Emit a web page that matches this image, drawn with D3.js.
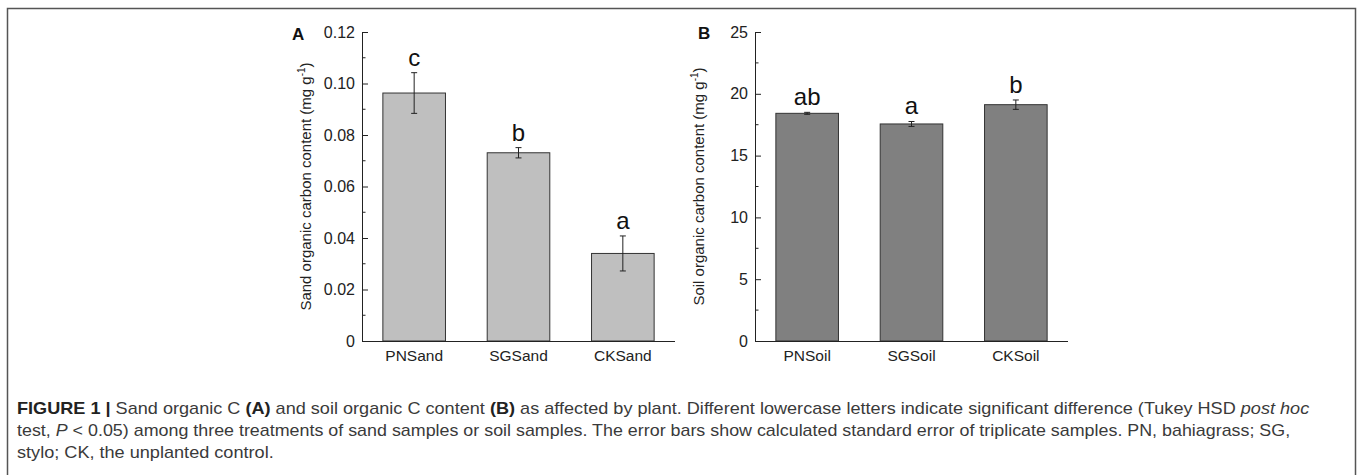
<!DOCTYPE html>
<html>
<head>
<meta charset="utf-8">
<script src="https://cdn.jsdelivr.net/npm/d3@7"></script>
<style>
  html, body { margin: 0; padding: 0; background: #fff; }
  svg { display: block; }
</style>
</head>
<body>
<svg id="chart" width="1357" height="475"></svg>
<script>
// ---------- data ----------
const sandCategories = ["PNSand", "SGSand", "CKSand"];
const sandValues = [0.0963, 0.0731, 0.0340];
const sandErrors = [0.0079, 0.0020, 0.0068];
const sandLetters = ["c", "b", "a"];
const sandTicks = [0, 0.02, 0.04, 0.06, 0.08, 0.10, 0.12];
const sandTickLabels = ["0", "0.02", "0.04", "0.06", "0.08", "0.10", "0.12"];

const soilCategories = ["PNSoil", "SGSoil", "CKSoil"];
const soilValues = [18.42, 17.56, 19.12];
const soilErrors = [0.08, 0.20, 0.38];
const soilLetters = ["ab", "a", "b"];
const soilTicks = [0, 5, 10, 15, 20, 25];
const soilTickLabels = ["0", "5", "10", "15", "20", "25"];

const captionLines = [
  [{t: "FIGURE 1 | ", b: true}, {t: "Sand organic C "}, {t: "(A)", b: true}, {t: " and soil organic C content "}, {t: "(B)", b: true},
   {t: " as affected by plant. Different lowercase letters indicate significant difference (Tukey HSD "}, {t: "post hoc", i: true}],
  [{t: "test, "}, {t: "P", i: true}, {t: " < 0.05) among three treatments of sand samples or soil samples. The error bars show calculated standard error of triplicate samples. PN, bahiagrass; SG,"}],
  [{t: "stylo; CK, the unplanted control."}]
];

// ---------- drawing ----------
const svg = d3.select("#chart");
const FONT = "'Liberation Sans', Arial, sans-serif";
const AX = "#222";

// frame
svg.append("path")
  .attr("d", "M7.5,480 V8.5 H1355.5 V480")
  .attr("fill", "none").attr("stroke", "#555").attr("stroke-width", 1.5);

function panel(opts) {
  const {x0, x1, y0, y1, cats, vals, errs, letters, ticks, tickLabels, max, minorStep, fill, title, label} = opts;
  const g = svg.append("g");
  const x = d3.scaleBand().domain(cats).range([x0, x1]).paddingInner(0.4).paddingOuter(0.2);
  const y = d3.scaleLinear().domain([0, max]).range([y1, y0]);

  // minor ticks
  const minors = d3.range(0, max + 1e-9, minorStep).filter(v => !ticks.some(t => Math.abs(t - v) < 1e-9));
  g.selectAll("line.minor").data(minors).enter().append("line")
    .attr("x1", x0).attr("x2", x0 + 3.5)
    .attr("y1", d => y(d)).attr("y2", d => y(d))
    .attr("stroke", AX).attr("stroke-width", 1);

  // y axis with inward ticks
  const yAxis = d3.axisLeft(y).tickValues(ticks).tickSize(-6).tickPadding(7)
    .tickFormat((d, i) => tickLabels[i]);
  const ya = g.append("g").attr("transform", `translate(${x0},0)`).call(yAxis);
  ya.select(".domain").attr("stroke", AX).attr("d", `M0.5,${y0} V${y1}`);
  ya.selectAll(".tick line").attr("stroke", AX);
  ya.selectAll(".tick text").attr("font-family", FONT).attr("font-size", 16).attr("fill", AX);

  // bars
  g.selectAll("rect.bar").data(cats).enter().append("rect")
    .attr("x", d => x(d)).attr("width", x.bandwidth())
    .attr("y", (d, i) => y(vals[i])).attr("height", (d, i) => y(0) - y(vals[i]))
    .attr("fill", fill).attr("stroke", "#333").attr("stroke-width", 1);

  // x axis
  const xAxis = d3.axisBottom(x).tickSize(0).tickPadding(9);
  const xa = g.append("g").attr("transform", `translate(0,${y1})`).call(xAxis);
  xa.select(".domain").attr("stroke", AX).attr("d", `M${x0},0.5 H${x1}`);
  xa.selectAll(".tick text").attr("font-family", FONT).attr("font-size", 15.5).attr("fill", AX);

  // error bars
  const cx = d => x(d) + x.bandwidth() / 2;
  cats.forEach((c, i) => {
    const top = y(vals[i] + errs[i]), bot = y(vals[i] - errs[i]);
    g.append("line").attr("x1", cx(c)).attr("x2", cx(c)).attr("y1", top).attr("y2", bot).attr("stroke", "#222");
    [top, bot].forEach(yy => g.append("line").attr("x1", cx(c) - 3).attr("x2", cx(c) + 3)
      .attr("y1", yy).attr("y2", yy).attr("stroke", "#222"));
    g.append("text").attr("x", cx(c)).attr("y", top - 7).attr("text-anchor", "middle")
      .attr("font-family", FONT).attr("font-size", 24).attr("fill", "#111").text(letters[i]);
  });

  // y title
  const tx = x0 - 51, ty = (y0 + y1) / 2;
  const t = g.append("text").attr("transform", `translate(${tx},${ty}) rotate(-90)`)
    .attr("text-anchor", "middle").attr("font-family", FONT).attr("font-size", 15).attr("fill", AX);
  t.append("tspan").text(title + " (mg g");
  t.append("tspan").attr("dy", -6).attr("font-size", 10).text("-1");
  t.append("tspan").attr("dy", 6).text(")");

  // panel label
  g.append("text").attr("x", label.x).attr("y", label.y).attr("font-family", FONT)
    .attr("font-weight", "bold").attr("font-size", 17).attr("fill", "#111").text(label.t);
}

panel({x0: 362, x1: 675, y0: 32, y1: 341, cats: sandCategories, vals: sandValues, errs: sandErrors,
  letters: sandLetters, ticks: sandTicks, tickLabels: sandTickLabels, max: 0.12, minorStep: 0.01,
  fill: "#bfbfbf", title: "Sand organic carbon content", label: {t: "A", x: 292, y: 40}});

panel({x0: 755, x1: 1068, y0: 32, y1: 341, cats: soilCategories, vals: soilValues, errs: soilErrors,
  letters: soilLetters, ticks: soilTicks, tickLabels: soilTickLabels, max: 25, minorStep: 2.5,
  fill: "#808080", title: "Soil organic carbon content", label: {t: "B", x: 698, y: 39}});

// caption
const capBaselines = [414, 436, 458];
const capWidths = [1293, 1274, 257];
captionLines.forEach((parts, li) => {
  const t = svg.append("text").attr("x", 0).attr("y", 0)
    .attr("font-family", FONT).attr("font-size", 16).attr("fill", "#3a3a3a");
  parts.forEach(p => {
    const s = t.append("tspan").text(p.t);
    if (p.b) s.attr("font-weight", "bold").attr("fill", "#222");
    if (p.i) s.attr("font-style", "italic");
  });
  const w = t.node().getComputedTextLength();
  const k = capWidths[li] / w;
  t.attr("transform", `translate(17,${capBaselines[li]}) scale(${k},1)`);
});
</script>
</body>
</html>
